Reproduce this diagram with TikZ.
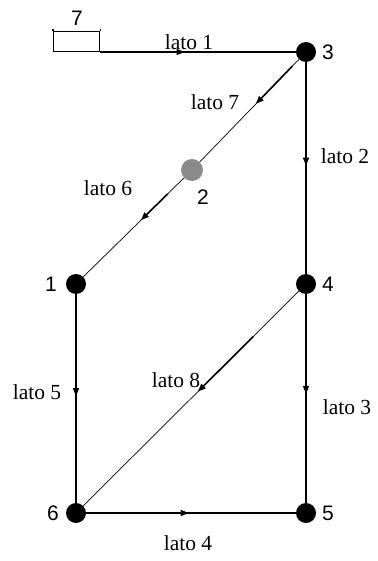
\documentclass[tikz,border=0pt]{standalone}
\usepackage{fontspec}
\setmainfont{Liberation Serif}
\newfontfamily\digfont{Liberation Sans}
\usetikzlibrary{calc,arrows.meta}
\begin{document}
\begin{tikzpicture}[x=1pt,y=-1pt,
 dot/.style={circle,fill=black,minimum size=20pt,inner sep=0pt},
 gdot/.style={circle,fill={rgb,255:red,138;green,138;blue,138},minimum size=22pt,inner sep=0pt},
 num/.style={font=\digfont\fontsize{21}{21}\selectfont,inner sep=0pt},
 lab/.style={font=\fontsize{21.5}{22}\selectfont,inner sep=0pt},
 heavy/.style={line width=1.4pt},
 light/.style={line width=0.7pt},
 boldseg/.style={line width=1.6pt},
 tipmark/.style={-{Triangle[length=8pt,width=6pt]}}
]
\useasboundingbox (0,0) rectangle (377,561);
% nodes
\node[dot] (n3) at (306,52) {};
\node[gdot] (n2) at (192,170) {};
\node[dot] (n1) at (76,284) {};
\node[dot] (n4) at (306,284) {};
\node[dot] (n6) at (76,513) {};
\node[dot] (n5) at (306,513) {};
\node[draw,line width=1.2pt,minimum width=46pt,minimum height=20pt,inner sep=0pt,anchor=south west] (n7) at (53,52) {};
\draw[line width=1.2pt] (n7.north west) -- ++(0,-2);
\draw[line width=1.2pt] (n7.north east) -- ++(0,-2);
% number labels
\node[num] (t7) at (77,18) {7};
\node[num] (t3) at (328,52) {3};
\node[num] (t2) at (203,197) {2};
\node[num] (t1) at (51,284) {1};
\node[num] (t4) at (328,284) {4};
\node[num] (t6) at (53,513) {6};
\node[num] (t5) at (328,513) {5};
% edges
\draw[heavy] (n7.south east) -- (n3);
\draw[heavy] (n3) -- (n4);
\draw[heavy] (n4) -- (n5);
\draw[heavy] (n6) -- (n5);
\draw[heavy] (n1) -- (n6);
\draw[light] (n3) -- (n2);
\draw[light] (n2) -- (n1);
\draw[light] (n4) -- (n6);
% direction marks
\draw[heavy,tipmark] (n7.south east) -- ($(n7.south east)!0.41!(n3)$);
\draw[heavy,tipmark] (n3) -- ($(n3)!0.49!(n4)$);
\draw[heavy,tipmark] (n4) -- ($(n4)!0.48!(n5)$);
\draw[heavy,tipmark] (n6) -- ($(n6)!0.49!(n5)$);
\draw[heavy,tipmark] (n1) -- ($(n1)!0.49!(n6)$);
\draw[boldseg,tipmark] ($(n3)!0.12!(n2)$) -- ($(n3)!0.44!(n2)$);
\draw[boldseg,tipmark] ($(n2)!0.21!(n1)$) -- ($(n2)!0.44!(n1)$);
\draw[boldseg,tipmark] ($(n4)!0.23!(n6)$) -- ($(n4)!0.47!(n6)$);
% edge labels
\node[lab] (l1) at (189,42) {lato 1};
\node[lab] (l7) at (215,102) {lato 7};
\node[lab] (l2) at (345,156) {lato 2};
\node[lab] (l6) at (108,188) {lato 6};
\node[lab] (l8) at (176,380) {lato 8};
\node[lab] (l5) at (37,392) {lato 5};
\node[lab] (l3) at (347,407) {lato 3};
\node[lab] (l4) at (188,543) {lato 4};
\end{tikzpicture}
\end{document}
